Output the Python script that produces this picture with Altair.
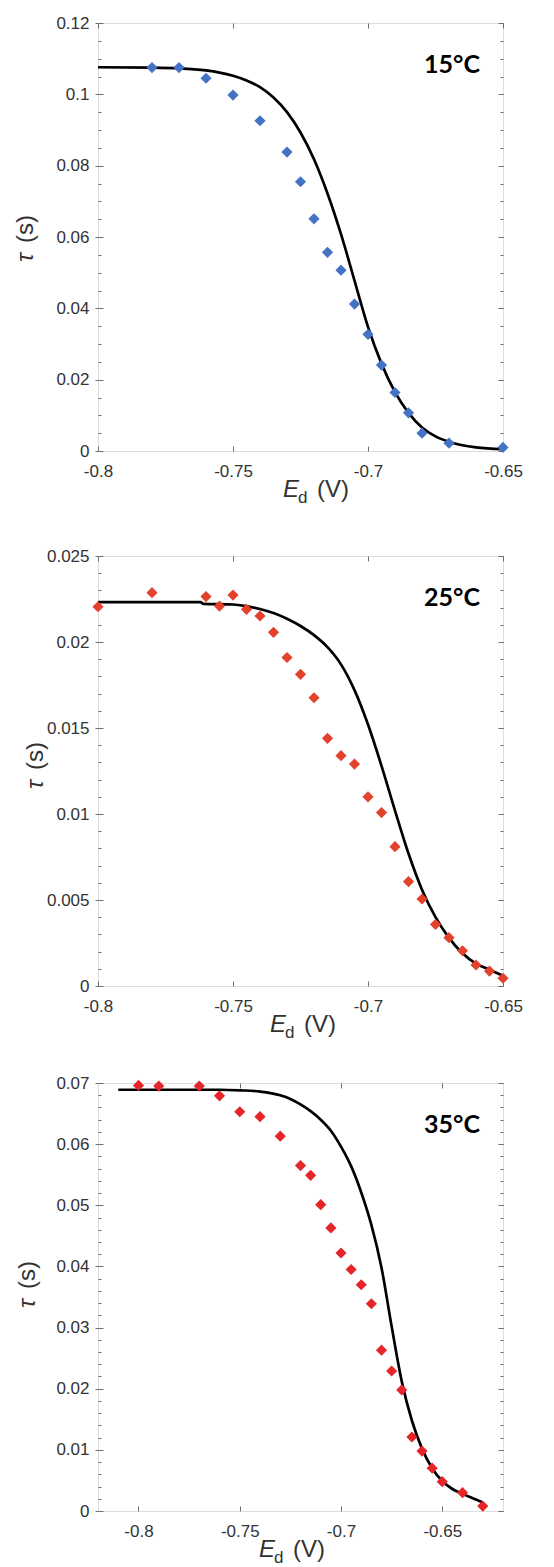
import altair as alt
import pandas as pd

# ---------------- data ----------------
# Panel 1: 15 °C
p1_x = [-0.78, -0.77, -0.76, -0.75, -0.74, -0.73, -0.725, -0.72, -0.715, -0.71,
        -0.705, -0.70, -0.695, -0.69, -0.685, -0.68, -0.67, -0.65]
p1_y = [0.1075, 0.1075, 0.1045, 0.0998, 0.0926, 0.0838, 0.0755, 0.0651, 0.0557, 0.0507,
        0.0412, 0.0327, 0.0241, 0.0164, 0.0107, 0.0050, 0.0022, 0.0010]
f1_x = [-0.8, -0.78, -0.77, -0.76, -0.755, -0.75, -0.745, -0.74, -0.735, -0.73, -0.725,
        -0.72, -0.715, -0.71, -0.705, -0.70, -0.695, -0.69, -0.685, -0.68, -0.675, -0.67,
        -0.66, -0.65]
f1_y = [0.1076, 0.1075, 0.1073, 0.1067, 0.1061, 0.1052, 0.1039, 0.1020, 0.0991, 0.0950, 0.0893,
        0.0818, 0.0722, 0.0608, 0.0478, 0.0348, 0.0245, 0.0165, 0.0107, 0.0066, 0.0041, 0.0026,
        0.0010, 0.0005]

# Panel 2: 25 °C
p2_x = [-0.80, -0.78, -0.76, -0.755, -0.75, -0.745, -0.74, -0.735, -0.73, -0.725, -0.72,
        -0.715, -0.71, -0.705, -0.70, -0.695, -0.69, -0.685, -0.68, -0.675, -0.67, -0.665,
        -0.66, -0.655, -0.65]
p2_y = [0.02205, 0.02287, 0.02264, 0.02209, 0.02273, 0.0219, 0.02151, 0.02056, 0.0191, 0.01812,
        0.01676, 0.0144, 0.01339, 0.0129, 0.0110, 0.01008, 0.0081, 0.00607, 0.00506, 0.00358,
        0.00281, 0.00205, 0.00122, 0.00087, 0.00045]
f2_x = [-0.8, -0.762, -0.761, -0.75, -0.745, -0.74, -0.735, -0.73, -0.725, -0.72, -0.715,
        -0.71, -0.705, -0.70, -0.695, -0.69, -0.685, -0.68, -0.675, -0.67, -0.665, -0.66,
        -0.655, -0.65]
f2_y = [0.02232, 0.02232, 0.02222, 0.02218, 0.02208, 0.02192, 0.02168, 0.02135, 0.02093, 0.0204,
        0.0197, 0.0187, 0.0172, 0.0152, 0.0128, 0.0102, 0.0077, 0.0056, 0.0040, 0.0028, 0.0019,
        0.0013, 0.00095, 0.0006]

# Panel 3: 35 °C
p3_x = [-0.80, -0.79, -0.77, -0.76, -0.75, -0.74, -0.73, -0.72, -0.715, -0.71, -0.705,
        -0.70, -0.695, -0.69, -0.685, -0.68, -0.675, -0.67, -0.665, -0.66, -0.655, -0.65,
        -0.64, -0.63]
p3_y = [0.0696, 0.0695, 0.0695, 0.0679, 0.0653, 0.0645, 0.0613, 0.0565, 0.0549, 0.0501, 0.0463,
        0.0422, 0.0395, 0.0370, 0.0339, 0.0263, 0.0229, 0.0198, 0.0121, 0.0098, 0.0070, 0.0048,
        0.0030, 0.0008]
f3_x = [-0.81, -0.78, -0.76, -0.75, -0.74, -0.73, -0.725, -0.72, -0.715, -0.71, -0.705,
        -0.70, -0.695, -0.69, -0.685, -0.68, -0.675, -0.67, -0.665, -0.66, -0.655, -0.65,
        -0.645, -0.64, -0.635, -0.63]
f3_y = [0.0689, 0.0689, 0.0689, 0.0688, 0.0686, 0.0680, 0.0674, 0.0665, 0.0654, 0.0640, 0.0622,
        0.0596, 0.0564, 0.0521, 0.0468, 0.0398, 0.0302, 0.0212, 0.0148, 0.0102, 0.0070, 0.0049,
        0.0036, 0.0028, 0.0021, 0.0014]

panel_labels = ["15°C", "25°C", "35°C"]
point_colors = ["#4472C4", "#E2412C", "#E5252A"]

x_ticks = [-0.8, -0.75, -0.7, -0.65]
y_ticks1 = [0, 0.02, 0.04, 0.06, 0.08, 0.1, 0.12]
y_ticks2 = [0, 0.005, 0.01, 0.015, 0.02, 0.025]
y_ticks3 = [0, 0.01, 0.02, 0.03, 0.04, 0.05, 0.06, 0.07]
y_minor1 = [round(i * 0.005, 4) for i in range(25)]
y_minor2 = [round(i * 0.001, 4) for i in range(26)]
y_minor3 = [round(i * 0.002, 4) for i in range(36)]

x_dom = [[-0.8, -0.65], [-0.8, -0.65], [-0.82, -0.62]]
y_dom = [[0, 0.12], [0, 0.025], [0, 0.07]]

W = 405
H = [428, 430, 428]

FONT = "Liberation Sans"
TICK = "#6e6e6e"
TEXT = "#333333"
LFS = 17


def panel(px, py, fx, fy, color, xd, yd, yt, ym, label, h, etx, ty_x, ty_c):
    pts = pd.DataFrame({"x": px, "y": py})
    fit = pd.DataFrame({"x": fx, "y": fy})
    xs = alt.Scale(domain=xd, nice=False, zero=False)
    ys = alt.Scale(domain=yd, nice=False, zero=False)
    lab = "'' + datum.value"
    common = dict(domain=False, grid=False, title=None, tickColor=TICK, tickWidth=1)

    ax_bottom = alt.Axis(values=x_ticks, labelExpr=lab, ticks=False, labelPadding=12,
                         labelFont=FONT, labelFontSize=LFS, labelColor=TEXT,
                         labelFlush=False, labelOverlap=False, labelBound=False, **common)
    ax_left = alt.Axis(values=yt, labelExpr=lab, tickSize=3, labelPadding=6,
                       labelFont=FONT, labelFontSize=LFS, labelColor=TEXT,
                       labelOverlap=False, **common)
    in_top = alt.Axis(orient="bottom", offset=-h, values=x_ticks, labels=False, tickSize=5, **common)
    in_bot = alt.Axis(orient="top", offset=-h, values=x_ticks, labels=False, tickSize=5, **common)
    in_left = alt.Axis(orient="right", offset=-W, values=yt, labels=False, tickSize=5, **common)
    in_right = alt.Axis(orient="left", offset=-W, values=yt, labels=False, tickSize=5, **common)
    mn_left = alt.Axis(orient="right", offset=-W, values=ym, labels=False, tickSize=3, **common)
    mn_right = alt.Axis(orient="left", offset=-W, values=ym, labels=False, tickSize=3, **common)

    line = alt.Chart(fit).mark_line(color="black", strokeWidth=2.7, interpolate="monotone").encode(
        x=alt.X("x:Q", scale=xs, axis=ax_bottom), y=alt.Y("y:Q", scale=ys, axis=ax_left))
    dots = alt.Chart(pts).mark_point(shape="diamond", filled=True, size=125, opacity=1,
                                     color=color).encode(
        x=alt.X("x:Q", scale=xs, axis=in_top), y=alt.Y("y:Q", scale=ys, axis=in_left))
    g1 = alt.Chart(fit).mark_line(opacity=0).encode(
        x=alt.X("x:Q", scale=xs, axis=in_bot), y=alt.Y("y:Q", scale=ys, axis=in_right))
    g2 = alt.Chart(fit).mark_line(opacity=0).encode(
        x=alt.X("x:Q", scale=xs, axis=None), y=alt.Y("y:Q", scale=ys, axis=mn_left))
    g3 = alt.Chart(fit).mark_line(opacity=0).encode(
        x=alt.X("x:Q", scale=xs, axis=None), y=alt.Y("y:Q", scale=ys, axis=mn_right))

    tdf = pd.DataFrame({"t": [label]})
    plabel = alt.Chart(tdf).mark_text(font="Lato", fontWeight="bold", fontSize=25,
                                      align="right", baseline="alphabetic", color="black").encode(
        x=alt.value(W - 23), y=alt.value(50), text="t:N")

    xt_df = pd.DataFrame({"a": ["E"], "b": ["d"], "c": ["(V)"]})
    tE = alt.Chart(xt_df).mark_text(font=FONT, fontSize=24, fontStyle="italic", align="left",
                                    baseline="alphabetic", color=TEXT).encode(
        x=alt.value(etx), y=alt.value(h + 46), text="a:N")
    td = alt.Chart(xt_df).mark_text(font=FONT, fontSize=17, align="left",
                                    baseline="alphabetic", color=TEXT).encode(
        x=alt.value(etx + 15), y=alt.value(h + 52), text="b:N")
    tV = alt.Chart(xt_df).mark_text(font=FONT, fontSize=24, align="left",
                                    baseline="alphabetic", color=TEXT).encode(
        x=alt.value(etx + 34), y=alt.value(h + 46), text="c:N")

    yt_df = pd.DataFrame({"a": ["τ"], "b": ["(s)"]})
    tau = alt.Chart(yt_df).mark_text(font=FONT, fontSize=24, fontStyle="italic", align="left",
                                     baseline="middle", angle=270, color=TEXT).encode(
        x=alt.value(ty_x), y=alt.value(ty_c + 25), text="a:N")
    tsec = alt.Chart(yt_df).mark_text(font=FONT, fontSize=24, align="left",
                                      baseline="middle", angle=270, color=TEXT).encode(
        x=alt.value(ty_x), y=alt.value(ty_c + 6), text="b:N")

    return alt.layer(line, dots, g1, g2, g3, plabel, tE, td, tV, tau, tsec).resolve_axis(
        x="independent", y="independent").properties(width=W, height=h)


c1 = panel(p1_x, p1_y, f1_x, f1_y, point_colors[0], x_dom[0], y_dom[0], y_ticks1, y_minor1,
           panel_labels[0], H[0], 185, -72, 214)
c2 = panel(p2_x, p2_y, f2_x, f2_y, point_colors[1], x_dom[1], y_dom[1], y_ticks2, y_minor2,
           panel_labels[1], H[1], 172, -62, 208)
c3 = panel(p3_x, p3_y, f3_x, f3_y, point_colors[2], x_dom[2], y_dom[2], y_ticks3, y_minor3,
           panel_labels[2], H[2], 161, -70, 200)

top = alt.vconcat(c1, c2, spacing=39)
chart = alt.vconcat(top, c3, spacing=31).configure_view(
    stroke="#8a8a8a", strokeWidth=1.2).configure(background="white")

chart.save("out.html", embed_options={"renderer": "svg", "actions": False})
